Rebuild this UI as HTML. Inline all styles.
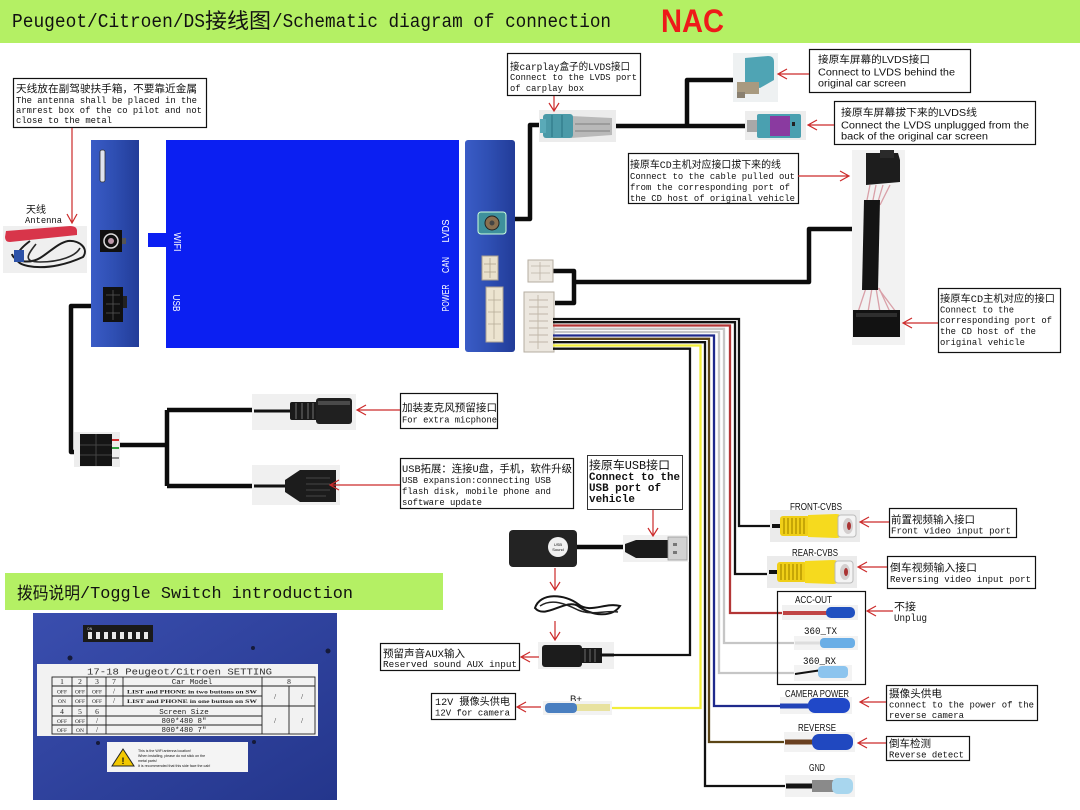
<!DOCTYPE html>
<html><head><meta charset="utf-8">
<style>
html,body{margin:0;padding:0;background:#fff;}
svg{display:block;}
.m{font-family:"Liberation Mono","WenQuanYi Zen Hei","Noto Sans CJK SC",monospace;fill:#111;}
.s{font-family:"Liberation Sans","Noto Sans CJK SC",sans-serif;fill:#111;}
.sr{font-family:"Liberation Serif","Noto Serif CJK SC",serif;fill:#222;}
.w{font-family:"Liberation Sans",sans-serif;fill:#fff;}
</style></head><body>
<svg width="1080" height="810" viewBox="0 0 1080 810" xmlns="http://www.w3.org/2000/svg">
<defs>
<linearGradient id="pg" x1="0" x2="1" y1="0" y2="0"><stop offset="0" stop-color="#3a5cc6"/><stop offset="0.5" stop-color="#2e4eb2"/><stop offset="1" stop-color="#223c98"/></linearGradient>
<linearGradient id="tg" x1="0" x2="1" y1="0" y2="1"><stop offset="0" stop-color="#3a4eae"/><stop offset="1" stop-color="#24368c"/></linearGradient>
</defs>
<rect width="1080" height="810" fill="#fff"/>

<!-- Header -->
<rect x="0" y="0" width="1080" height="43" fill="#b4f064"/>
<text class="m" x="12" y="27" font-size="19" textLength="193" lengthAdjust="spacingAndGlyphs">Peugeot/Citroen/DS</text>
<text class="m" x="205" y="28" font-size="21" textLength="66" lengthAdjust="spacingAndGlyphs">接线图</text>
<text class="m" x="272" y="27" font-size="19" textLength="339" lengthAdjust="spacingAndGlyphs">/Schematic diagram of connection</text>
<text x="661" y="32" font-family="Liberation Sans,sans-serif" font-weight="bold" font-size="32" fill="#ee1a1a" textLength="63" lengthAdjust="spacingAndGlyphs">NAC</text>

<!-- Antenna label -->
<rect x="13.5" y="78.5" width="193" height="49" fill="#fff" stroke="#111" stroke-width="1.2"/>
<text class="m" x="16" y="92" font-size="10.5" textLength="181" lengthAdjust="spacingAndGlyphs">天线放在副驾驶扶手箱，不要靠近金属</text>
<text class="m" x="16" y="103" font-size="9" textLength="181" lengthAdjust="spacingAndGlyphs">The antenna shall be placed in the</text>
<text class="m" x="16" y="113" font-size="9" textLength="186" lengthAdjust="spacingAndGlyphs">armrest box of the co pilot and not</text>
<text class="m" x="16" y="123" font-size="9" textLength="96" lengthAdjust="spacingAndGlyphs">close to the metal</text>

<text class="m" x="26" y="213" font-size="10" textLength="20" lengthAdjust="spacingAndGlyphs">天线</text>
<text class="m" x="25" y="223" font-size="9" textLength="37" lengthAdjust="spacingAndGlyphs">Antenna</text>

<!-- antenna image -->
<rect x="3" y="226" width="84" height="47" fill="#efefef"/>
<path d="M30 241 C18 250 8 262 28 266 C48 270 70 263 83 257 C89 249 80 240 68 241 C58 243 50 252 40 258 C30 264 14 262 12 254" fill="none" stroke="#1c1c1c" stroke-width="2"/>
<path d="M36 244 C28 254 22 262 40 262 C60 262 76 256 80 248" fill="none" stroke="#2a2a2a" stroke-width="1.6"/>
<path d="M6 231 L70 226 Q77 226 77 231 L77 235 L10 242 Q5 242 5 237 Z" fill="#d8354a"/>
<rect x="14" y="250" width="10" height="12" fill="#2d52a8"/>

<!-- Antenna arrow -->
<g stroke="#cc2a2a" stroke-width="1.2" fill="none">
<path d="M72 128 V223 M67 214 L72 223 L77 214"/>
</g>

<!-- Left panel -->
<rect x="91" y="140" width="48" height="207" fill="url(#pg)"/>
<rect x="100" y="150" width="5" height="32" rx="2" fill="#dfe3ee" stroke="#333" stroke-width="0.8"/>
<rect x="100" y="230" width="22" height="22" fill="#101010"/>
<circle cx="111" cy="241" r="7" fill="none" stroke="#ddd" stroke-width="1.5"/>
<circle cx="111" cy="241" r="3" fill="#b9a"/>
<rect x="122" y="238" width="4" height="6" fill="#555"/>
<rect x="103" y="287" width="20" height="35" fill="#111"/>
<rect x="123" y="296" width="4" height="12" fill="#222"/>
<g stroke="#555" stroke-width="0.8"><line x1="106" y1="295" x2="120" y2="295"/><line x1="106" y1="304" x2="120" y2="304"/><line x1="106" y1="313" x2="120" y2="313"/><line x1="113" y1="290" x2="113" y2="320"/></g>

<!-- Main blue -->
<rect x="148" y="233" width="19" height="14" fill="#0b1ff2"/>
<rect x="166" y="140" width="293" height="208" fill="#0b1ff2"/>
<text class="w" transform="translate(174,242) rotate(90)" font-size="10" text-anchor="middle" textLength="19" lengthAdjust="spacingAndGlyphs">WIFI</text>
<text class="w" transform="translate(173,303) rotate(90)" font-size="10" text-anchor="middle" textLength="17" lengthAdjust="spacingAndGlyphs">USB</text>
<text class="w" transform="translate(449,231) rotate(-90)" font-size="10" text-anchor="middle" textLength="23" lengthAdjust="spacingAndGlyphs">LVDS</text>
<text class="w" transform="translate(449,265) rotate(-90)" font-size="10" text-anchor="middle" textLength="16" lengthAdjust="spacingAndGlyphs">CAN</text>
<text class="w" transform="translate(449,298) rotate(-90)" font-size="10" text-anchor="middle" textLength="27" lengthAdjust="spacingAndGlyphs">POWER</text>

<!-- Right panel -->
<rect x="465" y="140" width="50" height="212" rx="3" fill="url(#pg)"/>
<rect x="478" y="212" width="28" height="22" rx="3" fill="#3e909c" stroke="#cfd" stroke-width="1"/>
<circle cx="492" cy="223" r="7" fill="#8a7050" stroke="#222" stroke-width="1"/>
<circle cx="492" cy="223" r="2.5" fill="#444"/>
<rect x="482" y="256" width="16" height="24" fill="#e9e1cc" stroke="#a9a090"/>
<g stroke="#b0a58f" stroke-width="0.8"><line x1="490" y1="258" x2="490" y2="278"/><line x1="484" y1="264" x2="496" y2="264"/><line x1="484" y1="272" x2="496" y2="272"/></g>
<rect x="486" y="287" width="17" height="55" fill="#ece4d0" stroke="#aaa095"/>
<g stroke="#b8ad98" stroke-width="0.8"><line x1="494" y1="290" x2="494" y2="339"/><line x1="488" y1="300" x2="501" y2="300"/><line x1="488" y1="312" x2="501" y2="312"/><line x1="488" y1="324" x2="501" y2="324"/></g>

<!-- thick black cables -->
<g fill="none" stroke="#0c0c0c" stroke-width="4.5" stroke-linejoin="round">
<path d="M515 219 H530 V125 H542"/>
<path d="M613 126 H748 M687 126 V80 H734"/>
<path d="M553 271 H574 V303 H555 M574 282 H809 V229 H855 L866 244"/>
<path d="M91 306 H71 V452 H76"/>
<path d="M119 445 H167 M167 410 V486 M167 410 H255 M167 486 H256"/>
<path d="M577 547 H626"/>
</g>

<!-- Carplay label -->
<rect x="507.5" y="53.5" width="133" height="42" fill="#fff" stroke="#111" stroke-width="1.2"/>
<text class="m" x="510" y="70" font-size="10" textLength="120" lengthAdjust="spacingAndGlyphs">接carplay盒子的LVDS接口</text>
<text class="m" x="510" y="80" font-size="9" textLength="127" lengthAdjust="spacingAndGlyphs">Connect to the LVDS port</text>
<text class="m" x="510" y="91" font-size="9" textLength="74" lengthAdjust="spacingAndGlyphs">of carplay box</text>

<!-- carplay connector -->
<rect x="539" y="110" width="77" height="32" fill="#ececec"/>
<path d="M571 116 L612 118 L612 135 L571 138 Z" fill="#b9b9b9"/>
<g stroke="#8a8a8a" stroke-width="1.2"><line x1="575" y1="124" x2="610" y2="124"/><line x1="575" y1="131" x2="610" y2="131"/></g>
<rect x="543" y="114" width="30" height="24" rx="3" fill="#4b9aa8"/>
<g stroke="#2f7a88" stroke-width="1.2"><line x1="552" y1="115" x2="552" y2="137"/><line x1="562" y1="115" x2="562" y2="137"/></g>
<rect x="540" y="119" width="6" height="14" fill="#5aaab8"/>

<!-- teal connector 1 -->
<rect x="733" y="53" width="45" height="49" fill="#eef1f2"/>
<path d="M745 58 L768 56 Q774 56 774 62 L774 80 L760 88 L745 86 Z" fill="#4fa4b4"/>
<rect x="737" y="82" width="22" height="12" fill="#a89a80"/>
<rect x="737" y="92" width="8" height="6" fill="#8a8070"/>

<!-- purple connector -->
<rect x="745" y="111" width="61" height="29" fill="#ededed"/>
<rect x="747" y="120" width="12" height="12" fill="#a8a8a8"/>
<rect x="757" y="114" width="44" height="24" rx="2" fill="#4aa0b0"/>
<rect x="770" y="116" width="20" height="20" fill="#8a3aa0"/>
<rect x="792" y="122" width="3" height="4" fill="#222"/>

<!-- Box 1 -->
<rect x="809.5" y="49.5" width="161" height="43" fill="#fff" stroke="#111" stroke-width="1.2"/>
<text class="s" x="818" y="63" font-size="10" textLength="112" lengthAdjust="spacingAndGlyphs">接原车屏幕的LVDS接口</text>
<text class="s" x="818" y="75.5" font-size="10" textLength="137" lengthAdjust="spacingAndGlyphs">Connect to LVDS behind the</text>
<text class="s" x="818" y="86.5" font-size="10" textLength="88" lengthAdjust="spacingAndGlyphs">original car screen</text>

<!-- Box 2 -->
<rect x="834.5" y="101.5" width="201" height="43" fill="#fff" stroke="#111" stroke-width="1.2"/>
<text class="s" x="841" y="116" font-size="10" textLength="136" lengthAdjust="spacingAndGlyphs">接原车屏幕拔下来的LVDS线</text>
<text class="s" x="841" y="128.5" font-size="10" textLength="188" lengthAdjust="spacingAndGlyphs">Connect the LVDS unplugged from the</text>
<text class="s" x="841" y="139.5" font-size="10" textLength="147" lengthAdjust="spacingAndGlyphs">back of the original car screen</text>

<!-- Box 3 -->
<rect x="628.5" y="153.5" width="170" height="50" fill="#fff" stroke="#111" stroke-width="1.2"/>
<text class="m" x="630" y="168" font-size="10" textLength="151" lengthAdjust="spacingAndGlyphs">接原车CD主机对应接口拔下来的线</text>
<text class="m" x="630" y="179" font-size="9" textLength="165" lengthAdjust="spacingAndGlyphs">Connect to the cable pulled out</text>
<text class="m" x="630" y="190" font-size="9" textLength="160" lengthAdjust="spacingAndGlyphs">from the corresponding port of</text>
<text class="m" x="630" y="201" font-size="9" textLength="165" lengthAdjust="spacingAndGlyphs">the CD host of original vehicle</text>

<!-- harness -->
<rect x="852" y="150" width="53" height="195" fill="#f2f2f2"/>
<path d="M866 153 L898 153 L900 160 L900 182 L866 185 Z" fill="#1d1d1d"/>
<rect x="880" y="150" width="14" height="8" fill="#2a2a2a"/>
<g stroke="#d9a0a8" stroke-width="1.3"><line x1="870" y1="185" x2="866" y2="205"/><line x1="876" y1="185" x2="872" y2="205"/><line x1="883" y1="185" x2="877" y2="205"/><line x1="890" y1="185" x2="880" y2="205"/><line x1="866" y1="288" x2="858" y2="312"/><line x1="872" y1="288" x2="868" y2="312"/><line x1="876" y1="288" x2="880" y2="312"/><line x1="879" y1="288" x2="890" y2="312"/><line x1="878" y1="288" x2="896" y2="312"/></g>
<path d="M864 200 L880 200 L878 290 L862 290 Z" fill="#141414"/>
<rect x="853" y="310" width="47" height="27" fill="#121212"/>
<rect x="856" y="313" width="41" height="4" fill="#2e2e2e"/>

<!-- Box 4 -->
<rect x="938.5" y="288.5" width="122" height="64" fill="#fff" stroke="#111" stroke-width="1.2"/>
<text class="m" x="940" y="302" font-size="10" textLength="115" lengthAdjust="spacingAndGlyphs">接原车CD主机对应的接口</text>
<text class="m" x="940" y="312.5" font-size="9" textLength="74" lengthAdjust="spacingAndGlyphs">Connect to the</text>
<text class="m" x="940" y="323" font-size="9" textLength="112" lengthAdjust="spacingAndGlyphs">corresponding port of</text>
<text class="m" x="940" y="334" font-size="9" textLength="96" lengthAdjust="spacingAndGlyphs">the CD host of the</text>
<text class="m" x="940" y="345" font-size="9" textLength="85" lengthAdjust="spacingAndGlyphs">original vehicle</text>

<!-- CAN / Power plugs -->
<rect x="528" y="260" width="25" height="22" fill="#ece7df" stroke="#b5ada2"/>
<g stroke="#bdb3a6" stroke-width="0.8"><line x1="531" y1="266" x2="550" y2="266"/><line x1="531" y1="273" x2="550" y2="273"/><line x1="540" y1="262" x2="540" y2="280"/></g>
<rect x="524" y="292" width="30" height="60" fill="#ece7df" stroke="#b5ada2"/>
<g stroke="#c0b6a8" stroke-width="0.9"><line x1="529" y1="300" x2="548" y2="300"/><line x1="529" y1="307" x2="548" y2="307"/><line x1="529" y1="314" x2="548" y2="314"/><line x1="529" y1="321" x2="548" y2="321"/><line x1="529" y1="328" x2="548" y2="328"/><line x1="529" y1="335" x2="548" y2="335"/><line x1="529" y1="342" x2="548" y2="342"/><line x1="538" y1="295" x2="538" y2="349"/></g>

<!-- wire bundle -->
<g fill="none" stroke-width="2.3" stroke-linejoin="miter">
<path d="M553 319 H739 V526 H782" stroke="#111"/>
<path d="M553 322.2 H735 V574 H779" stroke="#111"/>
<path d="M553 325.5 H730 V613 H790" stroke="#b33636"/>
<path d="M553 328.8 H724 V643 H800" stroke="#c6c6c6"/>
<path d="M553 332 H719 V673 H800" stroke="#c6c6c6"/>
<path d="M553 335.5 H714 V706 H785" stroke="#1f2a8c"/>
<path d="M553 338.8 H709 V742 H790" stroke="#5c4516"/>
<path d="M553 342.2 H705 V786 H790" stroke="#111"/>
<path d="M553 345.5 H700.5 V708 H606" stroke="#f2ee3a"/>
<path d="M553 348.7 H690 V655 H612" stroke="#111"/>
</g>

<!-- 4-pin connector -->
<rect x="74" y="432" width="46" height="35" fill="#ededed"/>
<rect x="80" y="434" width="32" height="32" fill="#151515"/>
<g stroke="#444" stroke-width="1"><line x1="80" y1="445" x2="112" y2="445"/><line x1="80" y1="455" x2="112" y2="455"/><line x1="96" y1="434" x2="96" y2="466"/></g>
<line x1="112" y1="440" x2="119" y2="440" stroke="#d03030" stroke-width="2"/>
<line x1="112" y1="448" x2="119" y2="448" stroke="#30a040" stroke-width="2"/>
<line x1="112" y1="458" x2="119" y2="458" stroke="#888" stroke-width="2"/>

<!-- mic jack -->
<rect x="252" y="394" width="104" height="36" fill="#f0f0f0"/>
<line x1="254" y1="411" x2="292" y2="411" stroke="#111" stroke-width="3"/>
<rect x="290" y="402" width="28" height="18" rx="2" fill="#1a1a1a"/>
<g stroke="#555" stroke-width="1.5"><line x1="296" y1="403" x2="296" y2="419"/><line x1="302" y1="403" x2="302" y2="419"/><line x1="308" y1="403" x2="308" y2="419"/><line x1="313" y1="403" x2="313" y2="419"/></g>
<rect x="316" y="398" width="36" height="26" rx="3" fill="#202020"/>
<rect x="318" y="401" width="32" height="4" fill="#4a4a4a"/>

<!-- USB female -->
<rect x="252" y="465" width="88" height="40" fill="#f0f0f0"/>
<line x1="254" y1="486" x2="288" y2="486" stroke="#111" stroke-width="3"/>
<path d="M285 480 L300 470 L336 470 L336 502 L300 502 L285 492 Z" fill="#1c1c1c"/>
<g stroke="#555" stroke-width="0.8"><line x1="306" y1="478" x2="330" y2="478"/><line x1="306" y1="484" x2="330" y2="484"/><line x1="306" y1="490" x2="330" y2="490"/><line x1="306" y1="496" x2="326" y2="496"/></g>

<!-- Mic box -->
<rect x="400.5" y="393.5" width="97" height="35" fill="#fff" stroke="#111" stroke-width="1.2"/>
<text class="m" x="402" y="411" font-size="10.5" textLength="95" lengthAdjust="spacingAndGlyphs">加装麦克风预留接口</text>
<text class="m" x="402" y="422.5" font-size="9" textLength="95" lengthAdjust="spacingAndGlyphs">For extra micphone</text>

<!-- USB box -->
<rect x="400.5" y="458.5" width="173" height="50" fill="#fff" stroke="#111" stroke-width="1.2"/>
<text class="m" x="402" y="472" font-size="10.5" textLength="170" lengthAdjust="spacingAndGlyphs">USB拓展：连接U盘，手机，软件升级</text>
<text class="m" x="402" y="483" font-size="9" textLength="149" lengthAdjust="spacingAndGlyphs">USB expansion:connecting USB</text>
<text class="m" x="402" y="494" font-size="9" textLength="149" lengthAdjust="spacingAndGlyphs">flash disk, mobile phone and</text>
<text class="m" x="402" y="505" font-size="9" textLength="80" lengthAdjust="spacingAndGlyphs">software update</text>

<!-- USB vehicle box -->
<rect x="587.5" y="455.5" width="95" height="54" fill="#fff" stroke="#333" stroke-width="1"/>
<text class="m" x="589" y="469" font-size="11.5" textLength="81" lengthAdjust="spacingAndGlyphs">接原车USB接口</text>
<text class="m" x="589" y="480" font-size="11" font-weight="bold" textLength="91" lengthAdjust="spacingAndGlyphs">Connect to the</text>
<text class="m" x="589" y="491" font-size="11" font-weight="bold" textLength="72" lengthAdjust="spacingAndGlyphs">USB port of</text>
<text class="m" x="589" y="502" font-size="11" font-weight="bold" textLength="46" lengthAdjust="spacingAndGlyphs">vehicle</text>

<!-- USB dongle -->
<rect x="509" y="530" width="68" height="37" rx="4" fill="#232323"/>
<circle cx="558" cy="547" r="10" fill="#f0f0f0"/>
<text class="s" x="558" y="546" font-size="4" text-anchor="middle">USB</text>
<text class="s" x="558" y="551" font-size="4" text-anchor="middle">Sound</text>
<!-- USB male -->
<rect x="623" y="535" width="66" height="27" fill="#f0f0f0"/>
<path d="M625 544 L636 540 L668 540 L668 558 L636 558 L625 552 Z" fill="#1a1a1a"/>
<rect x="668" y="537" width="19" height="23" fill="#d2d2d2" stroke="#999" stroke-width="0.8"/>
<rect x="673" y="543" width="4" height="3" fill="#777"/><rect x="673" y="551" width="4" height="3" fill="#777"/>

<!-- coil cable -->
<path d="M535 608 C540 592 565 594 578 604 C590 614 605 602 620 606 C612 618 592 616 578 606 C566 598 545 620 535 608 Z" fill="none" stroke="#151515" stroke-width="2"/>
<path d="M540 606 C552 598 566 604 578 610 C592 616 606 610 618 612" fill="none" stroke="#222" stroke-width="1.5"/>

<!-- AUX jack -->
<rect x="538" y="642" width="76" height="27" fill="#f0f0f0"/>
<rect x="542" y="645" width="40" height="22" rx="3" fill="#1c1c1c"/>
<rect x="580" y="648" width="22" height="15" fill="#1a1a1a"/>
<g stroke="#555" stroke-width="1.4"><line x1="585" y1="649" x2="585" y2="662"/><line x1="590" y1="649" x2="590" y2="662"/><line x1="595" y1="649" x2="595" y2="662"/></g>
<line x1="600" y1="655" x2="614" y2="655" stroke="#111" stroke-width="3"/>

<!-- AUX box -->
<rect x="380.5" y="643.5" width="139" height="27" fill="#fff" stroke="#111" stroke-width="1.2"/>
<text class="m" x="383" y="657" font-size="10.5" textLength="82" lengthAdjust="spacingAndGlyphs">预留声音AUX输入</text>
<text class="m" x="383" y="667" font-size="9.5" textLength="134" lengthAdjust="spacingAndGlyphs">Reserved sound AUX input</text>

<!-- 12V box -->
<rect x="431.5" y="693.5" width="84" height="26" fill="#fff" stroke="#111" stroke-width="1.2"/>
<text class="m" x="435" y="705" font-size="10" textLength="75" lengthAdjust="spacingAndGlyphs">12V 摄像头供电</text>
<text class="m" x="435" y="715.5" font-size="9" textLength="75" lengthAdjust="spacingAndGlyphs">12V for camera</text>

<!-- B+ -->
<text class="s" x="570" y="702" font-size="9" textLength="12" lengthAdjust="spacingAndGlyphs">B+</text>
<rect x="543" y="701" width="69" height="14" fill="#f2f2f2"/>
<rect x="574" y="704" width="36" height="7" fill="#e8e2a0"/>
<rect x="545" y="703" width="32" height="10" rx="4" fill="#4a7fc0"/>

<!-- RCA front -->
<g transform="translate(772,512)">
<rect x="-2" y="-2" width="90" height="32" fill="#ebebeb"/>
<rect x="0" y="12" width="10" height="4" fill="#111"/>
<rect x="8" y="4" width="30" height="20" rx="3" fill="#f0cf18"/>
<g stroke="#b89800" stroke-width="1.5"><line x1="12" y1="6" x2="12" y2="22"/><line x1="16" y1="6" x2="16" y2="22"/><line x1="20" y1="6" x2="20" y2="22"/><line x1="24" y1="6" x2="24" y2="22"/><line x1="28" y1="6" x2="28" y2="22"/><line x1="32" y1="6" x2="32" y2="22"/></g>
<path d="M36 3 L64 2 Q70 2 70 8 L70 20 Q70 26 64 26 L36 25 Z" fill="#f6da1e"/>
<rect x="66" y="3" width="18" height="22" rx="3" fill="#f4f4f4" stroke="#bbb"/>
<ellipse cx="76" cy="14" rx="5" ry="8" fill="#d4cfcf"/>
<ellipse cx="77" cy="14" rx="2" ry="4" fill="#a33"/>
</g>
<!-- RCA rear -->
<g transform="translate(769,558)">
<rect x="-2" y="-2" width="90" height="32" fill="#ebebeb"/>
<rect x="0" y="12" width="10" height="4" fill="#111"/>
<rect x="8" y="4" width="30" height="20" rx="3" fill="#f0cf18"/>
<g stroke="#b89800" stroke-width="1.5"><line x1="12" y1="6" x2="12" y2="22"/><line x1="16" y1="6" x2="16" y2="22"/><line x1="20" y1="6" x2="20" y2="22"/><line x1="24" y1="6" x2="24" y2="22"/><line x1="28" y1="6" x2="28" y2="22"/><line x1="32" y1="6" x2="32" y2="22"/></g>
<path d="M36 3 L64 2 Q70 2 70 8 L70 20 Q70 26 64 26 L36 25 Z" fill="#f6da1e"/>
<rect x="66" y="3" width="18" height="22" rx="3" fill="#f4f4f4" stroke="#bbb"/>
<ellipse cx="76" cy="14" rx="5" ry="8" fill="#d4cfcf"/>
<ellipse cx="77" cy="14" rx="2" ry="4" fill="#a33"/>
</g>

<text class="s" x="790" y="510" font-size="10" textLength="52" lengthAdjust="spacingAndGlyphs">FRONT-CVBS</text>
<text class="s" x="792" y="556" font-size="10" textLength="46" lengthAdjust="spacingAndGlyphs">REAR-CVBS</text>

<!-- Front / Rear boxes -->
<rect x="889.5" y="508.5" width="127" height="29" fill="#fff" stroke="#111" stroke-width="1.2"/>
<text class="m" x="891" y="523" font-size="10.5" textLength="84" lengthAdjust="spacingAndGlyphs">前置视频输入接口</text>
<text class="m" x="891" y="533.5" font-size="9.5" textLength="120" lengthAdjust="spacingAndGlyphs">Front video input port</text>
<rect x="887.5" y="556.5" width="148" height="32" fill="#fff" stroke="#111" stroke-width="1.2"/>
<text class="m" x="890" y="571" font-size="10.5" textLength="87" lengthAdjust="spacingAndGlyphs">倒车视频输入接口</text>
<text class="m" x="890" y="582" font-size="9.5" textLength="141" lengthAdjust="spacingAndGlyphs">Reversing video input port</text>

<!-- ACC/360 box -->
<rect x="777.5" y="591.5" width="88" height="93" fill="none" stroke="#111" stroke-width="1.2"/>
<text class="s" x="795" y="603" font-size="10" textLength="37" lengthAdjust="spacingAndGlyphs">ACC-OUT</text>
<rect x="782" y="605" width="76" height="15" fill="#f1f1f1"/>
<line x1="783" y1="613" x2="830" y2="613" stroke="#c04545" stroke-width="4"/>
<rect x="826" y="607" width="29" height="11" rx="5" fill="#2050c0"/>
<text class="m" x="804" y="634" font-size="10" textLength="33" lengthAdjust="spacingAndGlyphs">360_TX</text>
<rect x="794" y="636" width="64" height="14" fill="#f3f3f3"/>
<line x1="795" y1="643" x2="822" y2="643" stroke="#ddd" stroke-width="3"/>
<rect x="820" y="638" width="35" height="10" rx="4" fill="#6aaee6"/>
<text class="m" x="803" y="664" font-size="10" textLength="33" lengthAdjust="spacingAndGlyphs">360_RX</text>
<rect x="794" y="665" width="58" height="16" fill="#f3f3f3"/>
<line x1="795" y1="674" x2="822" y2="670" stroke="#111" stroke-width="2"/>
<rect x="818" y="666" width="30" height="12" rx="4" fill="#8cc4ee"/>

<text class="m" x="894" y="610" font-size="10.5" textLength="22" lengthAdjust="spacingAndGlyphs">不接</text>
<text class="m" x="894" y="621" font-size="10" textLength="33" lengthAdjust="spacingAndGlyphs">Unplug</text>

<!-- camera power -->
<text class="s" x="785" y="697" font-size="10" textLength="64" lengthAdjust="spacingAndGlyphs">CAMERA POWER</text>
<rect x="780" y="697" width="72" height="17" fill="#f2f2f2"/>
<line x1="780" y1="706" x2="815" y2="706" stroke="#2244b8" stroke-width="5"/>
<rect x="808" y="698" width="42" height="15" rx="7" fill="#2048c8"/>
<rect x="886.5" y="685.5" width="151" height="35" fill="#fff" stroke="#111" stroke-width="1.2"/>
<text class="m" x="889" y="697" font-size="10.5" textLength="53" lengthAdjust="spacingAndGlyphs">摄像头供电</text>
<text class="m" x="889" y="707.5" font-size="9.5" textLength="145" lengthAdjust="spacingAndGlyphs">connect to the power of the</text>
<text class="m" x="889" y="718" font-size="9.5" textLength="75" lengthAdjust="spacingAndGlyphs">reverse camera</text>

<!-- reverse -->
<text class="s" x="798" y="731" font-size="10" textLength="38" lengthAdjust="spacingAndGlyphs">REVERSE</text>
<rect x="784" y="732" width="71" height="20" fill="#f2f2f2"/>
<line x1="785" y1="742" x2="815" y2="742" stroke="#6a4020" stroke-width="5"/>
<rect x="812" y="734" width="41" height="16" rx="7" fill="#2048c0"/>
<rect x="886.5" y="736.5" width="83" height="24" fill="#fff" stroke="#111" stroke-width="1.2"/>
<text class="m" x="889" y="747" font-size="10.5" textLength="42" lengthAdjust="spacingAndGlyphs">倒车检测</text>
<text class="m" x="889" y="757.5" font-size="9.5" textLength="75" lengthAdjust="spacingAndGlyphs">Reverse detect</text>

<!-- GND -->
<text class="s" x="809" y="771" font-size="10" textLength="16" lengthAdjust="spacingAndGlyphs">GND</text>
<rect x="785" y="775" width="70" height="22" fill="#f2f2f2"/>
<line x1="786" y1="786" x2="814" y2="786" stroke="#151515" stroke-width="5"/>
<rect x="812" y="780" width="23" height="12" fill="#8a8a8a"/>
<rect x="832" y="778" width="21" height="16" rx="6" fill="#a8d6ee"/>

<!-- red arrows -->
<g stroke="#cc2a2a" stroke-width="1.2" fill="none">
<path d="M554 96 V111 M549 103 L554 111 L559 103"/>
<path d="M809 74 H778 M787 69 L778 74 L787 79"/>
<path d="M834 125 H808 M817 120 L808 125 L817 130"/>
<path d="M798 176 H849 M840 171 L849 176 L840 181"/>
<path d="M938 323 H903 M912 318 L903 323 L912 328"/>
<path d="M400 410 H357 M366 405 L357 410 L366 415"/>
<path d="M400 485 H330 M339 480 L330 485 L339 490"/>
<path d="M653 510 V536 M648 528 L653 536 L658 528"/>
<path d="M555 568 V590 M550 582 L555 590 L560 582"/>
<path d="M555 621 V640 M550 632 L555 640 L560 632"/>
<path d="M539 657 H521 M530 652 L521 657 L530 662"/>
<path d="M541 707 H517 M526 702 L517 707 L526 712"/>
<path d="M889 522 H860 M869 517 L860 522 L869 527"/>
<path d="M887 567 H858 M867 562 L858 567 L867 572"/>
<path d="M893 611 H867 M876 606 L867 611 L876 616"/>
<path d="M886 702 H860 M869 697 L860 702 L869 707"/>
<path d="M886 743 H858 M867 738 L858 743 L867 748"/>
</g>

<!-- Toggle section -->
<rect x="5" y="573" width="438" height="37" fill="#b4f064"/>
<text class="m" x="17" y="599" font-size="17" textLength="63" lengthAdjust="spacingAndGlyphs">拨码说明</text>
<text class="m" x="80" y="598" font-size="17" textLength="273" lengthAdjust="spacingAndGlyphs">/Toggle Switch introduction</text>

<rect x="33" y="613" width="304" height="187" fill="url(#tg)"/>
<rect x="83" y="625" width="70" height="17" fill="#1a1a1a"/>
<g fill="#e8e8e8"><rect x="88" y="632" width="4" height="7"/><rect x="96" y="632" width="4" height="7"/><rect x="104" y="632" width="4" height="7"/><rect x="112" y="632" width="4" height="7"/><rect x="120" y="632" width="4" height="7"/><rect x="128" y="632" width="4" height="7"/><rect x="136" y="632" width="4" height="7"/><rect x="144" y="632" width="4" height="7"/></g>
<text class="s" x="87" y="630" font-size="3.5" fill="#ccc" style="fill:#ccc">ON</text>
<g fill="#151a3a"><circle cx="70" cy="658" r="2.5"/><circle cx="253" cy="648" r="2"/><circle cx="328" cy="651" r="2.5"/><circle cx="98" cy="743" r="2"/><circle cx="254" cy="742" r="2"/></g>

<rect x="37" y="664" width="281" height="72" fill="#f2f2f2"/>
<text class="m" x="87" y="674.5" font-size="9.5" textLength="185" lengthAdjust="spacingAndGlyphs" style="fill:#333">17-18 Peugeot/Citroen SETTING</text>
<g stroke="#222" stroke-width="0.9" fill="none">
<rect x="52" y="677" width="263" height="57"/>
<line x1="52" y1="686" x2="315" y2="686"/>
<line x1="52" y1="696" x2="262" y2="696"/>
<line x1="52" y1="706" x2="315" y2="706"/>
<line x1="52" y1="716" x2="262" y2="716"/>
<line x1="52" y1="725" x2="262" y2="725"/>
<line x1="72" y1="677" x2="72" y2="734"/>
<line x1="87" y1="677" x2="87" y2="734"/>
<line x1="106" y1="677" x2="106" y2="734"/>
<line x1="123" y1="677" x2="123" y2="706"/>
<line x1="262" y1="677" x2="262" y2="734"/>
<line x1="289" y1="686" x2="289" y2="734"/>
</g>
<g class="sr" font-size="7.5" text-anchor="middle">
<text x="62" y="684">1</text><text x="80" y="684">2</text><text x="97" y="684">3</text><text x="114" y="684">7</text>
<text x="192" y="684" font-family="Liberation Mono,monospace">Car Model</text><text x="289" y="684">8</text>
<text x="62" y="693.5" font-size="5.5">OFF</text><text x="80" y="693.5" font-size="5.5">OFF</text><text x="97" y="693.5" font-size="5.5">OFF</text><text x="114" y="693.5">/</text>
<text x="192" y="693.5" font-size="5.5" font-weight="bold" textLength="130" lengthAdjust="spacingAndGlyphs">LIST and PHONE in two buttons on SW</text>
<text x="62" y="703" font-size="5.5">ON</text><text x="80" y="703" font-size="5.5">OFF</text><text x="97" y="703" font-size="5.5">OFF</text><text x="114" y="703">/</text>
<text x="192" y="703" font-size="5.5" font-weight="bold" textLength="130" lengthAdjust="spacingAndGlyphs">LIST and PHONE in one button on SW</text>
<text x="275" y="699">/</text><text x="302" y="699">/</text>
<text x="62" y="714">4</text><text x="80" y="714">5</text><text x="97" y="714">6</text>
<text x="184" y="714" font-family="Liberation Mono,monospace">Screen Size</text>
<text x="62" y="723" font-size="5.5">OFF</text><text x="80" y="723" font-size="5.5">OFF</text><text x="97" y="723">/</text>
<text x="184" y="723" font-family="Liberation Mono,monospace">800*480   8"</text>
<text x="62" y="732" font-size="5.5">OFF</text><text x="80" y="732" font-size="5.5">ON</text><text x="97" y="732">/</text>
<text x="184" y="732" font-family="Liberation Mono,monospace">800*480   7"</text>
<text x="275" y="723">/</text><text x="302" y="723">/</text>
</g>

<!-- sticker -->
<rect x="107" y="742" width="141" height="30" fill="#f4f4f4"/>
<path d="M112 766 L123 749 L134 766 Z" fill="#f2c800" stroke="#222" stroke-width="1"/>
<text class="s" x="123" y="764" font-size="9" font-weight="bold" text-anchor="middle">!</text>
<g class="s" font-size="3.6">
<text x="138" y="752">This is the WiFi antenna location!</text>
<text x="138" y="757">When installing, please do not stick on the</text>
<text x="138" y="762">metal parts!</text>
<text x="138" y="767">It is recommended that this side face the cab!</text>
</g>
</svg>
</body></html>
